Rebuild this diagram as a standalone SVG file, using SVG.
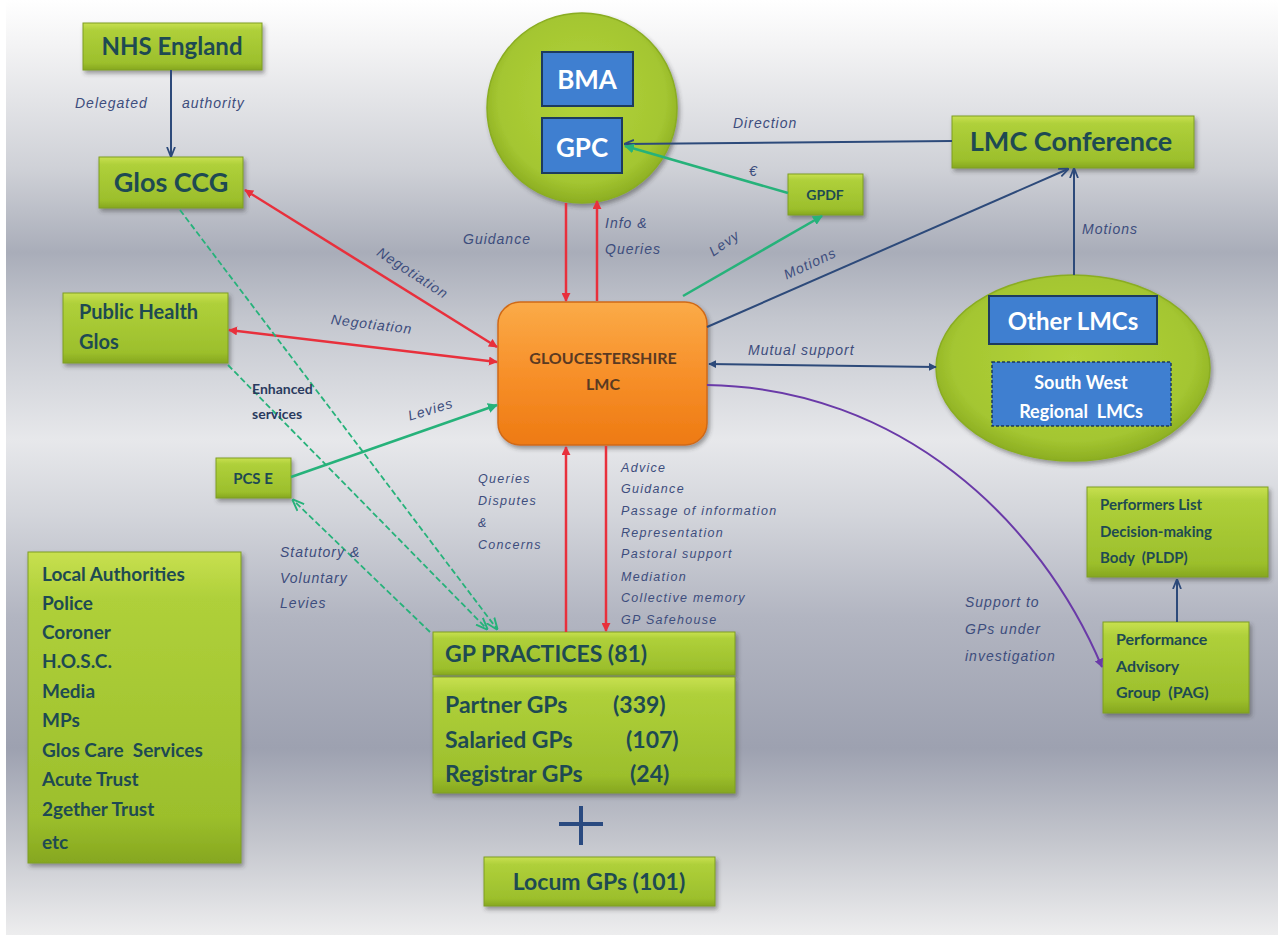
<svg xmlns="http://www.w3.org/2000/svg" width="1278" height="942" viewBox="0 0 1278 942">
<defs>
<linearGradient id="bg" x1="0" y1="0" x2="0" y2="1">
<stop offset="0" stop-color="#ffffff"/>
<stop offset="0.05" stop-color="#f3f3f4"/>
<stop offset="0.18" stop-color="#cfd1d7"/>
<stop offset="0.27" stop-color="#a9adb9"/>
<stop offset="0.34" stop-color="#c3c6ce"/>
<stop offset="0.47" stop-color="#e7e8eb"/>
<stop offset="0.55" stop-color="#d3d5db"/>
<stop offset="0.66" stop-color="#b2b5c1"/>
<stop offset="0.8" stop-color="#9da1b0"/>
<stop offset="0.9" stop-color="#c4c6cd"/>
<stop offset="1" stop-color="#ededee"/>
</linearGradient>
<linearGradient id="gbox" x1="0" y1="0" x2="0" y2="1">
<stop offset="0" stop-color="#c8e050"/>
<stop offset="0.15" stop-color="#afd03a"/>
<stop offset="0.85" stop-color="#9cbf2c"/>
<stop offset="1" stop-color="#86a71f"/>
</linearGradient>
<radialGradient id="gcirc" cx="0.5" cy="0.45" r="0.55">
<stop offset="0" stop-color="#b3d33a"/>
<stop offset="0.8" stop-color="#a4c631"/>
<stop offset="1" stop-color="#8cae22"/>
</radialGradient>
<linearGradient id="orange" x1="0" y1="0" x2="0" y2="1">
<stop offset="0" stop-color="#fbab48"/>
<stop offset="0.5" stop-color="#f7902a"/>
<stop offset="1" stop-color="#ee7a12"/>
</linearGradient>
<filter id="sh" x="-10%" y="-10%" width="130%" height="140%">
<feDropShadow dx="2" dy="3" stdDeviation="2" flood-color="#333" flood-opacity="0.45"/>
</filter>
<marker id="ar" viewBox="0 0 10 10" refX="9" refY="5" markerWidth="9" markerHeight="9" markerUnits="userSpaceOnUse" orient="auto-start-reverse"><path d="M0,0 L10,5 L0,10 z" fill="#e8303c"/></marker>
<marker id="ag" viewBox="0 0 10 10" refX="9" refY="5" markerWidth="10" markerHeight="10" markerUnits="userSpaceOnUse" orient="auto-start-reverse"><path d="M0,0 L10,5 L0,10 z" fill="#26b27a"/></marker>
<marker id="agd" viewBox="0 0 10 10" refX="9" refY="5" markerWidth="12" markerHeight="12" markerUnits="userSpaceOnUse" orient="auto-start-reverse"><path d="M0,1 L10,5 L0,9" fill="none" stroke="#26b27a" stroke-width="1.6"/></marker>
<marker id="ab" viewBox="0 0 10 10" refX="9" refY="5" markerWidth="10" markerHeight="10" markerUnits="userSpaceOnUse" orient="auto-start-reverse"><path d="M0,1 L10,5 L0,9" fill="none" stroke="#2d4a7a" stroke-width="1.8"/></marker>
<marker id="abs" viewBox="0 0 10 10" refX="9" refY="5" markerWidth="8" markerHeight="8" markerUnits="userSpaceOnUse" orient="auto-start-reverse"><path d="M0,0 L10,5 L0,10 z" fill="#2d4a7a"/></marker>
<marker id="ap" viewBox="0 0 10 10" refX="9" refY="5" markerWidth="9" markerHeight="9" markerUnits="userSpaceOnUse" orient="auto-start-reverse"><path d="M0,0 L10,5 L0,10 z" fill="#6a3aa8"/></marker>
</defs>
<style>
.gb{fill:url(#gbox);stroke:#7f9e22;stroke-width:1;filter:url(#sh)}
.bb{fill:#3f7fd0;stroke:#1d3b5e;stroke-width:2}
.nt{font-family:Lato,"Liberation Sans",sans-serif;font-weight:bold;fill:#1e4a52}
.wt{font-family:Lato,"Liberation Sans",sans-serif;font-weight:bold;fill:#ffffff}
.lb{font-family:"Liberation Sans",sans-serif;font-style:italic;fill:#3d4d7d;font-size:14px;letter-spacing:1px}
.sm{font-family:"Liberation Sans",sans-serif;font-style:italic;fill:#3d4d7d;font-size:12.5px;letter-spacing:1.3px}
.red{stroke:#e8303c;stroke-width:2.5;fill:none}
.grn{stroke:#26b27a;stroke-width:2.5;fill:none}
.gd{stroke:#26b27a;stroke-width:1.8;fill:none;stroke-dasharray:6 3}
.blu{stroke:#2d4a7a;stroke-width:2;fill:none}
.pur{stroke:#6a3aa8;stroke-width:2;fill:none}
</style>
<rect x="0" y="0" width="1278" height="942" fill="#ffffff"/>
<rect x="6" y="0" width="1272" height="935" fill="url(#bg)"/>

<g id="nhs-england">
<rect class="gb" x="83" y="23" width="179" height="47"/>
<text class="nt" x="172" y="55" font-size="24" text-anchor="middle">NHS England</text>
</g>
<g id="glos-ccg">
<rect class="gb" x="99" y="157" width="144" height="51"/>
<text class="nt" x="171" y="192" font-size="27" text-anchor="middle">Glos CCG</text>
</g>
<g id="bma-gpc">
<circle cx="582" cy="108" r="95" fill="url(#gcirc)" stroke="#8aad22" stroke-width="1.5" filter="url(#sh)"/>
<rect class="bb" x="542" y="52" width="91" height="54"/>
<text class="wt" x="587" y="89" font-size="26" text-anchor="middle">BMA</text>
<rect class="bb" x="542" y="118" width="80" height="55"/>
<text class="wt" x="582" y="157" font-size="26" text-anchor="middle">GPC</text>
</g>
<g id="lmc-conference">
<rect class="gb" x="952" y="116" width="242" height="52"/>
<text class="nt" x="1071" y="151" font-size="27" text-anchor="middle">LMC Conference</text>
</g>
<g id="gpdf">
<rect class="gb" x="788" y="174" width="75" height="41"/>
<text class="nt" x="825" y="200" font-size="14" text-anchor="middle">GPDF</text>
</g>
<g id="public-health">
<rect class="gb" x="63" y="293" width="165" height="70"/>
<text class="nt" x="79" y="319" font-size="20">Public Health</text>
<text class="nt" x="79" y="349" font-size="20">Glos</text>
</g>
<g id="gloucestershire-lmc">
<rect x="498" y="302" width="209" height="143" rx="22" fill="url(#orange)" stroke="#d06a18" stroke-width="1.5" filter="url(#sh)"/>
<text x="603" y="364" font-size="16" text-anchor="middle" style="font-family:Lato,'Liberation Sans',sans-serif;font-weight:bold;fill:#5a3a22">GLOUCESTERSHIRE</text>
<text x="603" y="390" font-size="16" text-anchor="middle" style="font-family:Lato,'Liberation Sans',sans-serif;font-weight:bold;fill:#5a3a22">LMC</text>
</g>
<g id="other-lmcs">
<ellipse cx="1073" cy="368" rx="137" ry="93" fill="url(#gcirc)" stroke="#8aad22" stroke-width="1.5" filter="url(#sh)"/>
<rect class="bb" x="989" y="296" width="168" height="48"/>
<text class="wt" x="1073" y="330" font-size="24" text-anchor="middle">Other LMCs</text>
<rect x="992" y="362" width="179" height="64" fill="#3f7fd0" stroke="#1d3b5e" stroke-width="1.5" stroke-dasharray="3 2"/>
<text class="wt" x="1081" y="389" font-size="18" text-anchor="middle">South West</text>
<text class="wt" x="1081" y="418" font-size="18" text-anchor="middle" xml:space="preserve">Regional  LMCs</text>
</g>
<g id="pcse">
<rect class="gb" x="216" y="458" width="75" height="40"/>
<text class="nt" x="253" y="484" font-size="15" text-anchor="middle">PCS E</text>
</g>
<g id="local-authorities">
<rect class="gb" x="28" y="552" width="213" height="311"/>
<text class="nt" x="42" y="581" font-size="19">Local Authorities</text>
<text class="nt" x="42" y="610" font-size="19">Police</text>
<text class="nt" x="42" y="639" font-size="19">Coroner</text>
<text class="nt" x="42" y="668" font-size="19">H.O.S.C.</text>
<text class="nt" x="42" y="698" font-size="19">Media</text>
<text class="nt" x="42" y="727" font-size="19">MPs</text>
<text class="nt" x="42" y="757" font-size="19" xml:space="preserve">Glos Care  Services</text>
<text class="nt" x="42" y="786" font-size="19">Acute Trust</text>
<text class="nt" x="42" y="816" font-size="19">2gether Trust</text>
<text class="nt" x="42" y="849" font-size="19">etc</text>
</g>
<g id="gp-practices">
<rect class="gb" x="433" y="632" width="302" height="43"/>
<text class="nt" x="445" y="662" font-size="23">GP PRACTICES (81)</text>
<rect class="gb" x="433" y="677" width="302" height="116"/>
<text class="nt" font-size="23"><tspan x="445" y="713">Partner GPs</tspan><tspan x="613" y="713">(339)</tspan></text>
<text class="nt" font-size="23"><tspan x="445" y="748">Salaried GPs</tspan><tspan x="626" y="748">(107)</tspan></text>
<text class="nt" font-size="23"><tspan x="445" y="782">Registrar GPs</tspan><tspan x="630" y="782">(24)</tspan></text>
</g>
<g id="plus">
<path d="M559,824 L603,824 M581,806 L581,845" stroke="#2a4a80" stroke-width="4" fill="none"/>
</g>
<g id="locum-gps">
<rect class="gb" x="484" y="857" width="231" height="49"/>
<text class="nt" x="599" y="890" font-size="23" text-anchor="middle">Locum GPs (101)</text>
</g>
<g id="pldp">
<rect class="gb" x="1087" y="487" width="181" height="90"/>
<text class="nt" x="1100" y="510" font-size="15">Performers List</text>
<text class="nt" x="1100" y="537" font-size="15">Decision-making</text>
<text class="nt" x="1100" y="563" font-size="15" xml:space="preserve">Body  (PLDP)</text>
</g>
<g id="pag">
<rect class="gb" x="1103" y="622" width="146" height="91"/>
<text class="nt" x="1116" y="645" font-size="16">Performance</text>
<text class="nt" x="1116" y="672" font-size="16">Advisory</text>
<text class="nt" x="1116" y="698" font-size="16" xml:space="preserve">Group  (PAG)</text>
</g>

<g id="connectors">
<path class="blu" d="M171,70 L171,156" marker-end="url(#ab)"/>
<path class="red" d="M245,190 L497,347" marker-start="url(#ar)" marker-end="url(#ar)"/>
<path class="red" d="M229,330 L497,362" marker-start="url(#ar)" marker-end="url(#ar)"/>
<path class="red" d="M566,203 L566,301" marker-end="url(#ar)"/>
<path class="red" d="M597,301 L597,201" marker-end="url(#ar)"/>
<path class="blu" d="M952,141 L625,144" marker-end="url(#ab)"/>
<path class="grn" d="M788,193 L625,146" marker-end="url(#ag)"/>
<path class="grn" d="M683,296 L822,216" marker-end="url(#ag)"/>
<path class="blu" d="M707,327 L1068,169" marker-end="url(#ab)"/>
<path class="blu" d="M1074,275 L1074,169" marker-end="url(#ab)"/>
<path class="blu" d="M709,364 L936,367" marker-start="url(#abs)" marker-end="url(#abs)"/>
<path class="pur" d="M707,385 C900,388 1040,520 1102,667" marker-end="url(#ap)"/>
<path class="red" d="M566,632 L566,447" marker-end="url(#ar)"/>
<path class="red" d="M606,446 L606,631" marker-end="url(#ar)"/>
<path class="grn" d="M291,477 L497,405" marker-end="url(#ag)"/>
<path class="gd" d="M180,210 L497,629" marker-end="url(#agd)"/>
<path class="gd" d="M228,365 L487,629" marker-end="url(#agd)"/>
<path class="gd" d="M430,632 L293,500" marker-end="url(#agd)"/>
<path class="blu" d="M1177,622 L1177,580" marker-end="url(#ab)"/>
</g>

<g id="labels">
<text class="lb" x="75" y="108">Delegated</text>
<text class="lb" x="182" y="108">authority</text>
<text class="lb" x="733" y="128">Direction</text>
<text class="lb" x="749" y="176">€</text>
<text class="lb" x="463" y="244">Guidance</text>
<text class="lb" x="605" y="228">Info &amp;</text>
<text class="lb" x="605" y="254">Queries</text>
<text class="lb" transform="translate(727,247) rotate(-35)" text-anchor="middle">Levy</text>
<text class="lb" transform="translate(812,268) rotate(-25)" text-anchor="middle">Motions</text>
<text class="lb" x="1082" y="234">Motions</text>
<text class="lb" transform="translate(410,277) rotate(33)" text-anchor="middle">Negotiation</text>
<text class="lb" transform="translate(371,329) rotate(7)" text-anchor="middle">Negotiation</text>
<text class="lb" x="748" y="355">Mutual support</text>
<text class="lb" transform="translate(432,414) rotate(-17)" text-anchor="middle">Levies</text>
<text x="252" y="394" style="font-family:Lato,'Liberation Sans',sans-serif;font-weight:bold;font-size:14px;fill:#2a3a5e">Enhanced</text>
<text x="252" y="419" style="font-family:Lato,'Liberation Sans',sans-serif;font-weight:bold;font-size:14px;fill:#2a3a5e">services</text>
<text class="lb" x="280" y="557">Statutory &amp;</text>
<text class="lb" x="280" y="583">Voluntary</text>
<text class="lb" x="280" y="608">Levies</text>
<text class="sm" x="478" y="483">Queries</text>
<text class="sm" x="478" y="505">Disputes</text>
<text class="sm" x="478" y="527">&amp;</text>
<text class="sm" x="478" y="549">Concerns</text>
<text class="sm" x="621" y="472">Advice</text>
<text class="sm" x="621" y="493">Guidance</text>
<text class="sm" x="621" y="515">Passage of information</text>
<text class="sm" x="621" y="537">Representation</text>
<text class="sm" x="621" y="558">Pastoral support</text>
<text class="sm" x="621" y="581">Mediation</text>
<text class="sm" x="621" y="602">Collective memory</text>
<text class="sm" x="621" y="624">GP Safehouse</text>
<text class="lb" x="965" y="607">Support to</text>
<text class="lb" x="965" y="634">GPs under</text>
<text class="lb" x="965" y="661">investigation</text>
</g>
</svg>
